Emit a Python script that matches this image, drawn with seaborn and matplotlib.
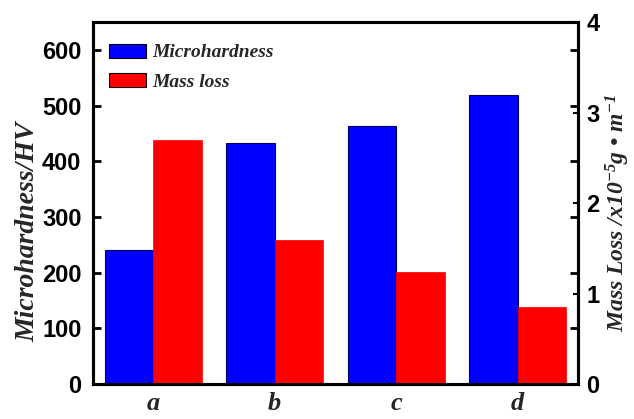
import numpy as np
import pandas as pd
import matplotlib
matplotlib.use("Agg")
import matplotlib.pyplot as plt
import seaborn as sns
from matplotlib.patches import Patch

samples = ['a', 'b', 'c', 'd']
hardness = [240, 432, 463, 519]
mass_loss = [2.70, 1.59, 1.24, 0.85]
series_names = ['Microhardness', 'Mass loss']
left_ticks = [0, 100, 200, 300, 400, 500, 600]
right_ticks = [0, 1, 2, 3, 4]

sns.set_theme(style='white')
plt.rcParams['font.family'] = ['Liberation Sans', 'DejaVu Sans']
plt.rcParams['mathtext.fontset'] = 'custom'
plt.rcParams['mathtext.it'] = 'Liberation Serif:italic:bold'
plt.rcParams['mathtext.rm'] = 'Liberation Serif:italic:bold'

df = pd.DataFrame({
    'sample': samples * 2,
    'series': [series_names[0]] * 4 + [series_names[1]] * 4,
    'hardness': hardness + [np.nan] * 4,
    'loss': [np.nan] * 4 + mass_loss,
})

colors = ['#0000ff', '#ff0000']

fig = plt.figure(figsize=(6.34, 4.19), dpi=100)
ax = fig.add_axes([0.146, 0.0835, 0.766, 0.864])

sns.barplot(data=df, x='sample', y='hardness', hue='series', hue_order=series_names,
            palette=colors, ax=ax, errorbar=None, width=0.8, legend=False,
            edgecolor='#000060', linewidth=0.8, saturation=1)
ax2 = ax.twinx()
sns.barplot(data=df, x='sample', y='loss', hue='series', hue_order=series_names,
            palette=colors, ax=ax2, errorbar=None, width=0.8, legend=False,
            edgecolor='#ff0000', linewidth=0.5, saturation=1)

ax.set_xlim(-0.5, 3.5)
ax.set_ylim(0, 650)
ax2.set_ylim(0, 4)
ax.set_yticks(left_ticks)
ax2.set_yticks(right_ticks)

serif = dict(family='Liberation Serif', style='italic', weight='bold')
ax.set_xlabel('')
ax.set_ylabel('')
ax2.set_ylabel('')
fig.text(28 / 634, 1 - 232 / 419, 'Microhardness/HV', rotation=90,
         ha='center', va='center', fontsize=20, **serif)
fig.text(618 / 634, 1 - 213 / 419, r'Mass Loss /x10$^{-5}$g • m$^{-1}$', rotation=90,
         ha='center', va='center', fontsize=17, **serif)

ax.set_xticks(range(len(samples)))
ax.set_xticklabels(samples, fontsize=19, **serif)
for lab in ax.get_yticklabels():
    lab.set_fontweight('bold')
    lab.set_fontsize(17)
for lab in ax2.get_yticklabels():
    lab.set_fontweight('bold')
    lab.set_fontsize(17)

ax.tick_params(axis='y', direction='in', length=6, width=2.0, right=True, left=True, pad=8, colors='black')
ax.tick_params(axis='x', length=0, pad=6)
ax2.tick_params(axis='y', direction='in', length=3.5, width=1.5, pad=6, colors='black')
for a in (ax, ax2):
    for s in a.spines.values():
        s.set_linewidth(2.2)
        s.set_color('black')
        s.set_visible(True)

handles = [Patch(facecolor=colors[0], edgecolor='black', linewidth=0.8),
           Patch(facecolor=colors[1], edgecolor='black', linewidth=0.8)]
leg = ax2.legend(handles, series_names, loc='upper left', frameon=False,
                 prop=dict(family='Liberation Serif', style='italic', weight='bold', size=14),
                 handlelength=1.9, handleheight=0.72, borderaxespad=0, borderpad=0,
                 labelspacing=0.6, handletextpad=0.3, bbox_to_anchor=(0.034, 0.94))

fig.savefig('out.png', dpi=100)
